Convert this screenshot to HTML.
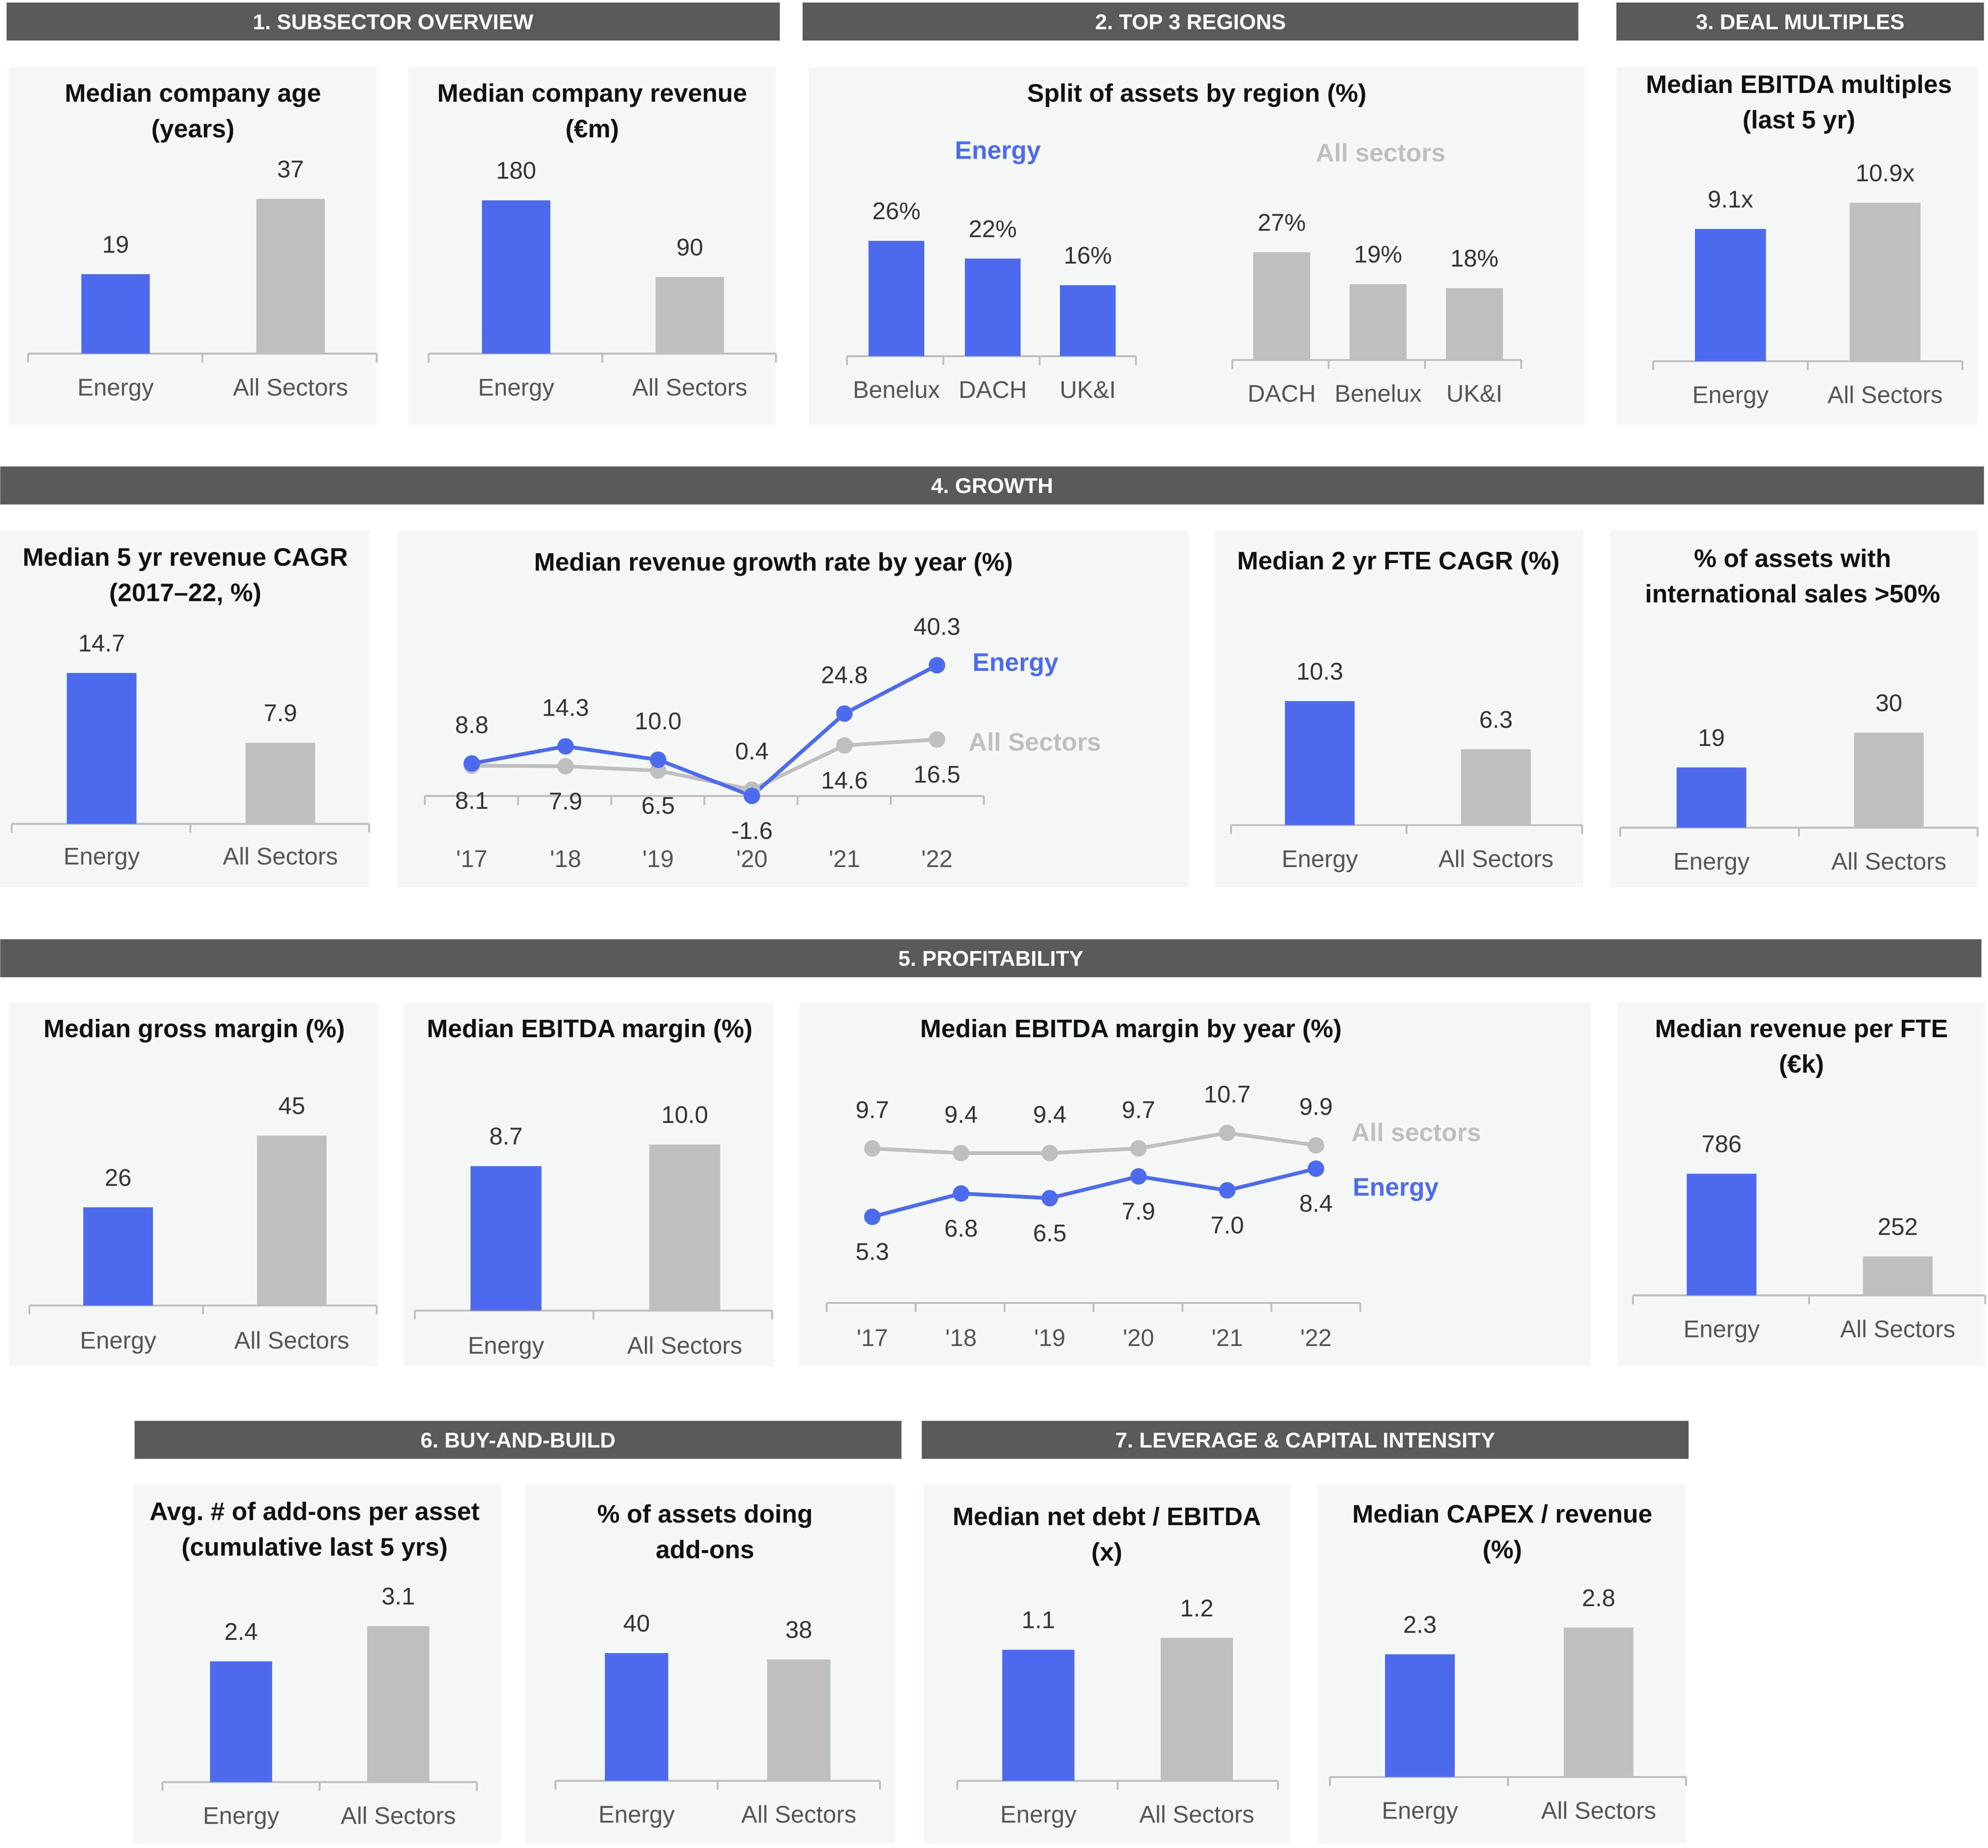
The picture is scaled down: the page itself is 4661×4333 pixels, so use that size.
<!DOCTYPE html>
<html><head><meta charset="utf-8"><title>Energy subsector dashboard</title>
<style>
html,body{margin:0;padding:0;background:#fff;}
svg{display:block;font-family:"Liberation Sans",sans-serif;}
.t{font-weight:bold;font-size:20px;fill:#111;text-anchor:middle;}
.h{font-weight:bold;font-size:17px;fill:#fff;text-anchor:middle;}
.v{font-size:19px;fill:#333;text-anchor:middle;}
.c{font-size:19px;fill:#555;text-anchor:middle;}
</style></head>
<body>
<svg id="root" width="4661" height="4333" viewBox="0 0 1568 1458" xmlns="http://www.w3.org/2000/svg"></svg>
<script>
// ---------- data ----------
const barCategories = ['Energy', 'All Sectors'];
const ageValues = [19, 37];
const revenueValues = [180, 90];
const regionEnergyCats = ['Benelux', 'DACH', 'UK&I'];
const regionEnergyValues = [26, 22, 16];
const regionAllCats = ['DACH', 'Benelux', 'UK&I'];
const regionAllValues = [27, 19, 18];
const multipleValues = [9.1, 10.9];
const cagrValues = [14.7, 7.9];
const growthYears = ["'17", "'18", "'19", "'20", "'21", "'22"];
const growthEnergy = [8.8, 14.3, 10.0, -1.6, 24.8, 40.3];
const growthAll = [8.1, 7.9, 6.5, 0.4, 14.6, 16.5];
const fteValues = [10.3, 6.3];
const intlValues = [19, 30];
const grossValues = [26, 45];
const ebitdaValues = [8.7, 10.0];
const marginYears = ["'17", "'18", "'19", "'20", "'21", "'22"];
const marginEnergy = [5.3, 6.8, 6.5, 7.9, 7.0, 8.4];
const marginAll = [9.7, 9.4, 9.4, 9.7, 10.7, 9.9];
const revFteValues = [786, 252];
const addonValues = [2.4, 3.1];
const addonPctValues = [40, 38];
const debtValues = [1.1, 1.2];
const capexValues = [2.3, 2.8];

const BLUE = '#4f6bed', GRAY = '#bfbfbf', PANEL = '#f5f8f9', HEAD = '#595959', AXIS = '#bdbdbd';
const NS = 'http://www.w3.org/2000/svg';
const root = document.getElementById('root');
function mk(tag, attrs, parent, text) {
  const e = document.createElementNS(NS, tag);
  for (const k in attrs) e.setAttribute(k, attrs[k]);
  if (text !== undefined) e.textContent = text;
  (parent || root).appendChild(e);
  return e;
}
function group(name) {
  const g = mk('g', {});
  
  
  return g;
}
function header(name, x, w, y, label) {
  const g = group(name);
  const r = mk('rect', {x: x, y: y, width: w, height: 30, fill: HEAD}, g);
  
  
  const t = mk('text', {x: x + w / 2, y: y + 21, class: 'h'}, g, label);
  
  
}
function panel(g, x, y, w, h) {
  const r = mk('rect', {x: x, y: y, width: w, height: h, fill: PANEL}, g);
  
  
}
function title(g, cx, ys, lines) {
  lines.forEach((l, i) => {
    const t = mk('text', {x: cx, y: ys[i], class: 't', 'dominant-baseline': 'middle'}, g, l);
    
    
  });
}
// bar chart: baseline y, px per unit k
function bars(g, cfg) {
  const {cats, vals, centers, bw, base, k, ax0, ax1, labY, fmt, colors} = cfg;
  const ax = mk('line', {x1: ax0, x2: ax1, y1: base, y2: base, stroke: AXIS, 'stroke-width': 1.5}, g);
  
  
  const step = (ax1 - ax0) / cats.length;
  for (let i = 0; i <= cats.length; i++) {
    const tk = mk('line', {x1: ax0 + step * i, x2: ax0 + step * i, y1: base, y2: base + 7, stroke: AXIS, 'stroke-width': 1.5}, g);
    
    
  }
  vals.forEach((v, i) => {
    const h = v * k;
    const r = mk('rect', {x: centers[i] - bw / 2, y: base - h, width: bw, height: h, fill: colors ? colors[i] : (i === 0 ? BLUE : GRAY)}, g);
    
    
    const vt = mk('text', {x: centers[i], y: base - h - 22, class: 'v', 'dominant-baseline': 'middle'}, g, fmt ? fmt(v) : String(v));
    
    
    const ct = mk('text', {x: centers[i], y: labY, class: 'c', 'dominant-baseline': 'middle'}, g, cats[i]);
    
    
  });
}
function lineChart(g, cfg) {
  const {years, xs, series, y0, k, ax0, ax1, axY, labY, fmt} = cfg;
  const yOf = v => y0 - v * k;
  const ax = mk('line', {x1: ax0, x2: ax1, y1: axY, y2: axY, stroke: AXIS, 'stroke-width': 1.5}, g);
  
  
  const step = (ax1 - ax0) / years.length;
  for (let i = 0; i <= years.length; i++) {
    const tk = mk('line', {x1: ax0 + step * i, x2: ax0 + step * i, y1: axY, y2: axY + 7, stroke: AXIS, 'stroke-width': 1.5}, g);
    
    
  }
  years.forEach((y, i) => {
    const t = mk('text', {x: xs[i], y: labY, class: 'c', 'dominant-baseline': 'middle'}, g, y);
    
    
  });
  series.forEach((s, si) => {
    const other = series[1 - si];
    const p = mk('polyline', {points: s.vals.map((v, i) => xs[i] + ',' + yOf(v)).join(' '), fill: 'none', stroke: s.color, 'stroke-width': 3}, g);
    
    
  });
  series.forEach((s, si) => {
    const other = series[1 - si];
    s.vals.forEach((v, i) => {
      const c = mk('circle', {cx: xs[i], cy: yOf(v), r: 6.5, fill: s.color}, g);
      
      
      const above = v >= other.vals[i];
      const t = mk('text', {x: xs[i], y: yOf(v) + (above ? -29 : 29), class: 'v', 'dominant-baseline': 'middle'}, g, fmt(v));
      
      
    });
  });
}
function legend(g, x, y, label, color) {
  const t = mk('text', {x: x, y: y, 'font-size': 20, 'font-weight': 'bold', fill: color, 'dominant-baseline': 'middle'}, g, label);
  
  
}
const f1 = v => v.toFixed(1);

// ---------- headers ----------
header('header-subsector-overview', 5, 610, 2, '1. SUBSECTOR OVERVIEW');
header('header-top-regions', 633, 612, 2, '2. TOP 3 REGIONS');
header('header-deal-multiples', 1275, 290, 2, '3. DEAL MULTIPLES');
header('header-growth', 0, 1565, 368, '4. GROWTH');
header('header-profitability', 0, 1563, 741, '5.  PROFITABILITY');
header('header-buy-and-build', 106, 605, 1121, '6. BUY-AND-BUILD');
header('header-leverage', 727, 605, 1121, '7. LEVERAGE & CAPITAL INTENSITY');

// ---------- row 1 ----------
let g = group('company-age-chart'); panel(g, 7, 53, 290, 282);
title(g, 152, [75, 103], ['Median company age', '(years)']);
bars(g, {cats: barCategories, vals: ageValues, centers: [91, 229], bw: 54, base: 279, k: 3.3, ax0: 22, ax1: 297, labY: 307});

g = group('company-revenue-chart'); panel(g, 322, 53, 290, 282);
title(g, 467, [75, 103], ['Median company revenue', '(€m)']);
bars(g, {cats: barCategories, vals: revenueValues, centers: [407, 544], bw: 54, base: 279, k: 0.672, ax0: 338, ax1: 612, labY: 307});

g = group('region-split-chart'); panel(g, 638, 53, 612, 282);
title(g, 944, [75], ['Split of assets by region (%)']);
const egl = mk('text', {x: 787, y: 120, 'font-size': 20, 'font-weight': 'bold', fill: BLUE, 'text-anchor': 'middle', 'dominant-baseline': 'middle'}, g, 'Energy');
 
const agl = mk('text', {x: 1089, y: 122, 'font-size': 20, 'font-weight': 'bold', fill: GRAY, 'text-anchor': 'middle', 'dominant-baseline': 'middle'}, g, 'All sectors');
 
bars(g, {cats: regionEnergyCats, vals: regionEnergyValues, centers: [707, 783, 858], bw: 44, base: 281, k: 3.5, ax0: 668, ax1: 896, labY: 309, fmt: v => v + '%', colors: [BLUE, BLUE, BLUE]});
bars(g, {cats: regionAllCats, vals: regionAllValues, centers: [1011, 1087, 1163], bw: 45, base: 284, k: 3.15, ax0: 972, ax1: 1200, labY: 312, fmt: v => v + '%', colors: [GRAY, GRAY, GRAY]});

g = group('ebitda-multiples-chart'); panel(g, 1275, 53, 285, 282);
title(g, 1419, [68, 96], ['Median EBITDA multiples', '(last 5 yr)']);
bars(g, {cats: barCategories, vals: multipleValues, centers: [1365, 1487], bw: 56, base: 285, k: 11.47, ax0: 1304, ax1: 1548, labY: 313, fmt: v => v.toFixed(1) + 'x'});

// ---------- row 2 ----------
g = group('revenue-cagr-chart'); panel(g, 0, 418, 292, 282);
title(g, 146, [441, 469], ['Median 5 yr revenue CAGR', '(2017–22, %)']);
bars(g, {cats: barCategories, vals: cagrValues, centers: [80, 221], bw: 55, base: 650, k: 8.1, ax0: 9, ax1: 291, labY: 677, fmt: f1});

g = group('revenue-growth-line-chart'); panel(g, 313, 418, 625, 282);
title(g, 610, [445], ['Median revenue growth rate by year (%)']);
lineChart(g, {years: growthYears, xs: [372, 446, 519, 593, 666, 739], y0: 624, k: 2.46, ax0: 335, ax1: 776, axY: 628, labY: 679, fmt: f1,
  series: [{name: 'all-sectors', vals: growthAll, color: GRAY}, {name: 'energy', vals: growthEnergy, color: BLUE}]});
legend(g, 767, 524, 'Energy', BLUE);
legend(g, 764, 587, 'All Sectors', GRAY);

g = group('fte-cagr-chart'); panel(g, 958, 418, 291, 282);
title(g, 1103, [444], ['Median 2 yr FTE CAGR (%)']);
bars(g, {cats: barCategories, vals: fteValues, centers: [1041, 1180], bw: 55, base: 651, k: 9.5, ax0: 971, ax1: 1248, labY: 679, fmt: f1});

g = group('international-sales-chart'); panel(g, 1270, 418, 290, 282);
title(g, 1414, [442, 470], ['% of assets with', 'international sales >50%']);
bars(g, {cats: barCategories, vals: intlValues, centers: [1350, 1490], bw: 55, base: 653, k: 2.5, ax0: 1278, ax1: 1560, labY: 681});

// ---------- row 3 ----------
g = group('gross-margin-chart'); panel(g, 7, 791, 291, 287);
title(g, 153, [813], ['Median gross margin (%)']);
bars(g, {cats: barCategories, vals: grossValues, centers: [93, 230], bw: 55, base: 1030, k: 2.98, ax0: 23, ax1: 297, labY: 1059});

g = group('ebitda-margin-chart'); panel(g, 318, 791, 292, 287);
title(g, 465, [813], ['Median EBITDA margin (%)']);
bars(g, {cats: barCategories, vals: ebitdaValues, centers: [399, 540], bw: 56, base: 1034, k: 13.1, ax0: 327, ax1: 609, labY: 1063, fmt: f1});

g = group('ebitda-margin-line-chart'); panel(g, 630, 791, 625, 287);
title(g, 892, [813], ['Median EBITDA margin by year (%)']);
lineChart(g, {years: marginYears, xs: [688, 758, 828, 898, 968, 1038], y0: 1025, k: 12.26, ax0: 652, ax1: 1073, axY: 1028, labY: 1057, fmt: f1,
  series: [{name: 'all-sectors', vals: marginAll, color: GRAY}, {name: 'energy', vals: marginEnergy, color: BLUE}]});
legend(g, 1066, 895, 'All sectors', GRAY);
legend(g, 1067, 938, 'Energy', BLUE);

g = group('revenue-per-fte-chart'); panel(g, 1276, 791, 290, 287);
title(g, 1421, [813, 841], ['Median revenue per FTE', '(€k)']);
bars(g, {cats: barCategories, vals: revFteValues, centers: [1358, 1497], bw: 55, base: 1022, k: 0.1221, ax0: 1288, ax1: 1566, labY: 1050});

// ---------- row 4 ----------
g = group('addons-per-asset-chart'); panel(g, 105, 1171, 290, 283);
title(g, 248, [1194, 1222], ['Avg. # of add-ons per asset', '(cumulative last 5 yrs)']);
bars(g, {cats: barCategories, vals: addonValues, centers: [190, 314], bw: 49, base: 1406, k: 39.7, ax0: 128, ax1: 376, labY: 1434, fmt: f1});

g = group('assets-doing-addons-chart'); panel(g, 414, 1171, 292, 283);
title(g, 556, [1196, 1224], ['% of assets doing', 'add-ons']);
bars(g, {cats: barCategories, vals: addonPctValues, centers: [502, 630], bw: 50, base: 1405, k: 2.52, ax0: 438, ax1: 694, labY: 1433});

g = group('net-debt-chart'); panel(g, 728, 1171, 290, 283);
title(g, 873, [1198, 1226], ['Median net debt / EBITDA', '(x)']);
bars(g, {cats: barCategories, vals: debtValues, centers: [819, 944], bw: 57, base: 1405, k: 94, ax0: 755, ax1: 1008, labY: 1433, fmt: f1});

g = group('capex-chart'); panel(g, 1040, 1171, 290, 283);
title(g, 1185, [1196, 1224], ['Median CAPEX / revenue', '(%)']);
bars(g, {cats: barCategories, vals: capexValues, centers: [1120, 1261], bw: 55, base: 1402, k: 42.1, ax0: 1049, ax1: 1330, labY: 1430, fmt: f1});
</script>
</body></html>
